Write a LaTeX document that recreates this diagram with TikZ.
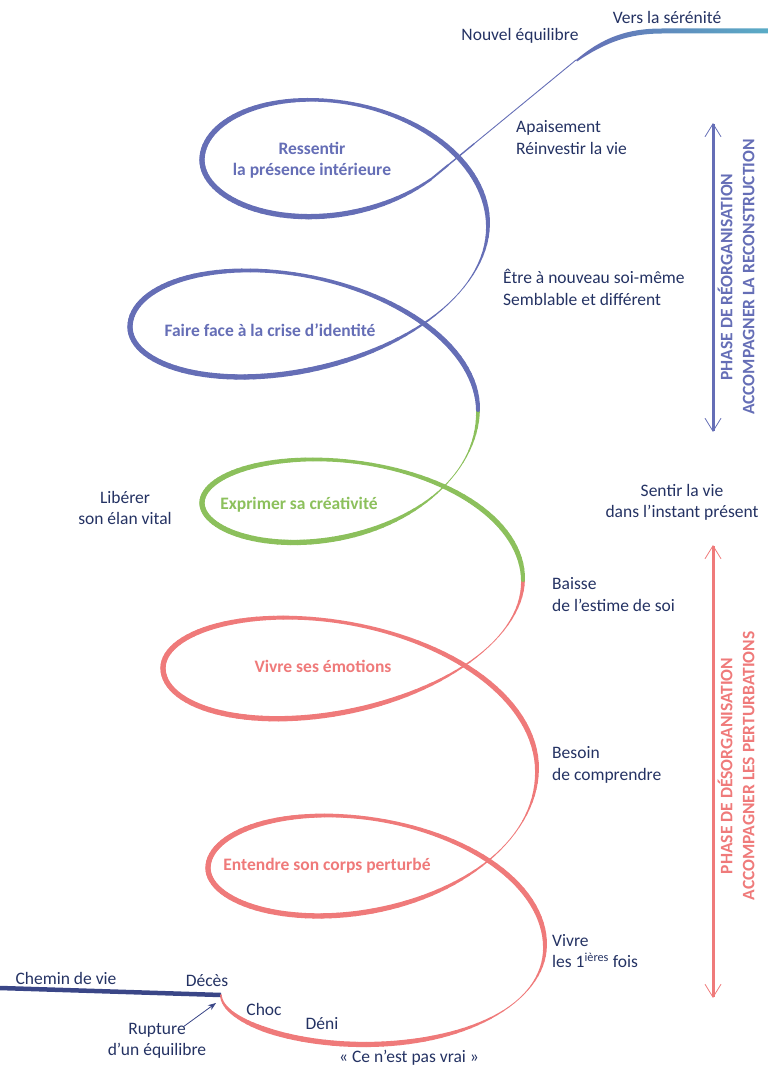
\documentclass[tikz,border=0pt]{standalone}
\usepackage{fontspec}
\setmainfont{Carlito}
\usetikzlibrary{arrows.meta,calc}
\definecolor{navy}{RGB}{36,50,99}
\definecolor{lifeline}{RGB}{58,70,135}
\definecolor{spblue}{RGB}{101,110,182}
\definecolor{spgreen}{RGB}{140,192,92}
\definecolor{sppink}{RGB}{239,122,122}
\definecolor{spteal}{RGB}{90,172,198}

\begin{document}
\begin{tikzpicture}[
  x=1pt,y=-1pt,
  every node/.style={font=\fontsize{17.5}{21.5}\selectfont,text=navy,inner sep=0pt},
  lbl/.style={align=left,anchor=west},
  loop lbl/.style={font=\fontsize{17.5}{21.5}\selectfont\bfseries,align=center},
  phase/.style={font=\fontsize{17.5}{22}\selectfont\bfseries,align=center,rotate=90},
  phase arrow/.style={line width=3pt,
    {Straight Barb[length=13pt,width=16pt,line width=0.8pt]}-{Straight Barb[length=13pt,width=16pt,line width=0.8pt]}}
]
\useasboundingbox (0,0) rectangle (768,1086);

% chemin de vie
\coordinate (deces pt) at (221,995);
\draw[lifeline,line width=4.5pt] (0,988) -- (deces pt);

% spiral: half-turn j, X / Y / B at both ends, steps of 3 deg
\foreach \j/\xa/\ya/\ba/\xb/\yb/\bb/\n in {
  -1/221/995/62/545/946/85/60,
  0/545/946/85/208/868/90/60,
  1/208/868/90/537/770/94/60,
  2/537/770/94/163/668/97/60,
  3/163/668/97/523/580/80/60,
  4/523/580/80/202/503/77/60,
  5/202/503/77/478/410/86/60,
  6/478/410/86/130/327/100/60,
  7/130/327/100/488/225/88/60,
  8/488/225/88/202/160/92/60,
  9/202/160/92/490/75/100/42}{
  \ifnum\j<4 \def\spcol{sppink}\else\ifnum\j<6 \def\spcol{spgreen}\else\def\spcol{spblue}\fi\fi
  \foreach \k in {1,...,\n}{
    \pgfmathsetmacro\ua{3*(\k-1)}
    \pgfmathsetmacro\ub{3*\k}
    \pgfmathsetmacro\xo{(\xa+\xb)/2+(\xa-\xb)/2*cos(\ua)}
    \pgfmathsetmacro\yo{\ya+\ua/180*(\yb-\ya)-(\ba+\ua/180*(\bb-\ba))*sin(180*\j+\ua)}
    \pgfmathsetmacro\xe{(\xa+\xb)/2+(\xa-\xb)/2*cos(\ub)}
    \pgfmathsetmacro\ye{\ya+\ub/180*(\yb-\ya)-(\ba+\ub/180*(\bb-\ba))*sin(180*\j+\ub)}
    \pgfmathsetmacro\th{180*\j+\ua+1.5}
    \pgfmathsetmacro\da{mod(\th-326.6+900,360)-180}
    \pgfmathsetmacro\db{mod(\th-91.7+900,360)-180}
    \pgfmathsetmacro\ea{max(-8,0-(\da/31.5)*(\da/31.5))}
    \pgfmathsetmacro\eb{max(-8,0-(\db/34.4)*(\db/34.4))}
    \pgfmathsetmacro\w{5.3-4.5*exp(\ea)-1.9*exp(\eb)}
    \ifnum\j=-1 \pgfmathsetmacro\w{\w*min(1,0.3+\ua/60)}\fi
    \draw[\spcol,line width=\w pt,line cap=round] (\xo,\yo) -- (\xe,\ye);
  }
}

% vers la serenite
\coordinate (spiral end) at (430.6,179.5);
\coordinate (calm) at (576,60);
\foreach \a/\b/\w in {0/0.12/2.0, 0.12/0.3/1.4, 0.3/1/0.9}
  \draw[spblue,line width=\w pt,line cap=round] ($(spiral end)!\a!(calm)$) -- ($(spiral end)!\b!(calm)$);
\shade[left color=spblue,middle color=spteal,right color=spteal]
  (calm) .. controls (603,37) and (628,28.5) .. (662,28.5) -- (768,28.5)
  -- (768,33.5) -- (662,33.5) .. controls (630,33.5) and (606,42) .. (577,61.5) -- cycle;

% labels
\node (chemin) at (66,978) {Chemin de vie};
\node (deces) at (207,981) {Décès};
\node (choc) at (264,1009) {Choc};
\node (deni) at (322,1024) {Déni};
\node (pasvrai) at (409,1058) {«~Ce n’est pas vrai~»};
\node[align=center] (rupture) at (157,1041) {Rupture\\d’un équilibre};
\coordinate (rup from) at (183,1027);
\coordinate (rup tip) at (216,1003);
\draw[lifeline,line width=0.8pt,-{Stealth[length=8pt,width=6pt]}] (rup from) -- (rup tip);

\node[lbl] (premieres) at (552,951) {Vivre\\les 1\textsuperscript{ières} fois};
\node[lbl] (besoin) at (552,765) {Besoin\\de comprendre};
\node[lbl] (baisse) at (552,594.5) {Baisse\\de l’estime de soi};
\node[align=center] (sentir) at (682,502.5) {Sentir la vie\\dans l’instant présent};
\node[align=center] (liberer) at (125,508) {Libérer\\son élan vital};
\node[lbl] (etre) at (503,287.5) {Être à nouveau soi-même\\Semblable et différent};
\node[lbl] (apaisement) at (516,137.5) {Apaisement\\Réinvestir la vie};
\node (nouvel) at (520,36) {Nouvel équilibre};
\node (serenite) at (667,17) {Vers la sérénité};

\node[loop lbl,text=spblue] (ressentir) at (312,160) {Ressentir\\la présence intérieure};
\node[loop lbl,text=spblue] (identite) at (270,330) {Faire face à la crise d’identité};
\node[loop lbl,text=spgreen] (creativite) at (299,505) {Exprimer sa créativité};
\node[loop lbl,text=sppink] (emotions) at (323,666) {Vivre ses émotions};
\node[loop lbl,text=sppink] (corps) at (327,866) {Entendre son corps perturbé};

% phases
\coordinate (reorg top) at (713,123);
\coordinate (reorg bot) at (713,432);
\draw[phase arrow,spblue] (reorg top) -- (reorg bot);
\node[phase,text=spblue] (reorg) at (736,277) {PHASE DE RÉORGANISATION\\ACCOMPAGNER LA RECONSTRUCTION};
\coordinate (desorg top) at (713,545);
\coordinate (desorg bot) at (713,998);
\draw[phase arrow,sppink] (desorg top) -- (desorg bot);
\node[phase,text=sppink] (desorg) at (736,766) {PHASE DE DÉSORGANISATION\\ACCOMPAGNER LES PERTURBATIONS};
\end{tikzpicture}
\end{document}
